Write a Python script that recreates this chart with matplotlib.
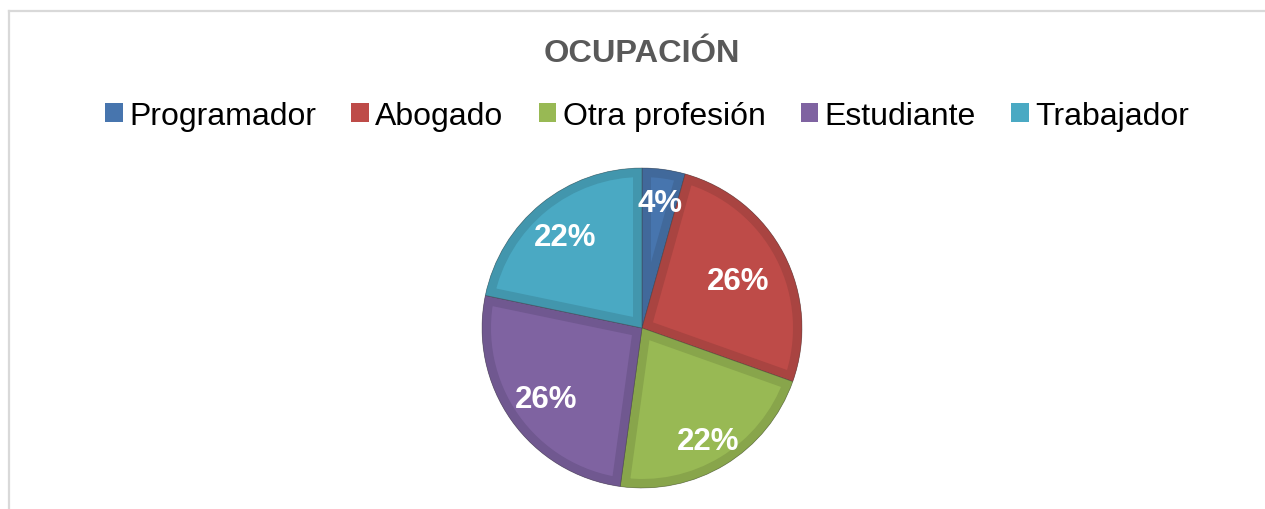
import matplotlib
matplotlib.use("Agg")
import matplotlib.pyplot as plt
from matplotlib.patches import Patch, Wedge
from matplotlib.lines import Line2D
import numpy as np

# ---- data ----
categories = ["Programador", "Abogado", "Otra profesión", "Estudiante", "Trabajador"]
counts = [1, 6, 5, 6, 5]
pct_labels = ["4%", "26%", "22%", "26%", "22%"]
title = "OCUPACIÓN"

# ---- style ----
colors = ["#4775AE", "#BE4B48", "#98B954", "#7F63A1", "#4AA9C3"]
edge_colors = ["#41699B", "#A94441", "#88A54B", "#705890", "#4296AD"]
label_dist = [0.81, 0.68, 0.80, 0.73, 0.76]

plt.rcParams['font.family'] = ['Liberation Sans', 'DejaVu Sans']

W, H = 1265, 510
fig = plt.figure(figsize=(W / 100, H / 100), dpi=100)

# border (chart area frame, clipped by image)
fig.add_artist(Line2D([8.5 / W, 8.5 / W], [0, 1 - 11.5 / H], color="#D9D9D9", lw=1.6,
                      transform=fig.transFigure))
fig.add_artist(Line2D([8.5 / W, 1], [1 - 11.5 / H, 1 - 11.5 / H], color="#D9D9D9", lw=1.6,
                      transform=fig.transFigure))

# pie axes: center (642, 329) px from top, radius 160 px
cx, cy, r = 642, H - 329, 160
half = 170
ax = fig.add_axes([(cx - half) / W, (cy - half) / H, 2 * half / W, 2 * half / H])

wedges, _ = ax.pie(counts, colors=colors, startangle=90, counterclock=False, radius=1.0,
                   wedgeprops=dict(linewidth=0))
lim = half / r
ax.set_xlim(-lim, lim)
ax.set_ylim(-lim, lim)
ax.set_aspect("equal")
ax.axis("off")

band_pts = 9 * 72 / 100  # ~9 px inner band
for w, ec in zip(wedges, edge_colors):
    bevel = Wedge(w.center, w.r, w.theta1, w.theta2, facecolor="none", edgecolor=ec,
                  linewidth=2 * band_pts, transform=ax.transData)
    ax.add_patch(bevel)
    bevel.set_clip_path(w)
    outline = Wedge(w.center, w.r, w.theta1, w.theta2, facecolor="none",
                    edgecolor="#3A3A3A", linewidth=0.5, alpha=0.5)
    ax.add_patch(outline)

for w, lab, d in zip(wedges, pct_labels, label_dist):
    ang = np.deg2rad((w.theta1 + w.theta2) / 2)
    ax.text(d * np.cos(ang), d * np.sin(ang), lab, ha="center", va="center_baseline",
            color="white", fontsize=22.5, fontweight="bold")

fig.text(cx / W, 1 - 54 / H, title, ha="center", va="center", fontsize=23.4,
         fontweight="bold", color="#595959")

handles = [Patch(facecolor=c, edgecolor="none") for c in colors]
fig.legend(handles, categories, loc="center", bbox_to_anchor=(647 / W, 1 - 117 / H),
           ncol=5, frameon=False, fontsize=23, handlelength=0.55, handleheight=0.55,
           handletextpad=0.2, columnspacing=1.1, borderaxespad=0)

fig.savefig("out.png", dpi=100)
